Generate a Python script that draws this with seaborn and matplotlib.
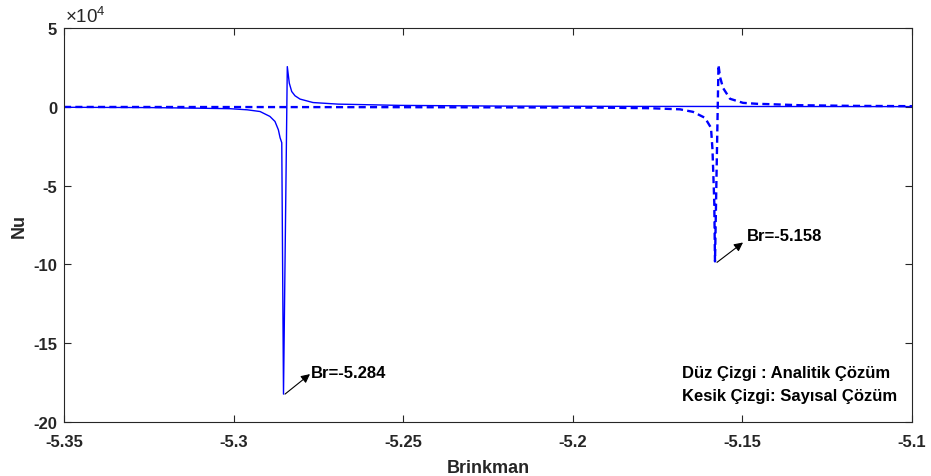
import matplotlib
matplotlib.use("Agg")
import matplotlib.pyplot as plt
import seaborn as sns
import pandas as pd

# ---- data ----
br_analytic = [-5.3500, -5.3246, -5.3099, -5.3011, -5.2960, -5.2922, -5.2893,
               -5.2878, -5.2868, -5.2863, -5.2858, -5.28529, -5.28417, -5.28358,
               -5.28287, -5.2819, -5.28042, -5.27659, -5.26922, -5.25094,
               -5.22146, -5.1800, -5.1400, -5.1000]
nu_analytic = [-300, -500, -900, -1200, -1900, -3000, -6100,
               -9300, -14600, -19600, -22800, -182300, 25500, 15000,
               9700, 7000, 4900, 2700, 1700, 900,
               450, 250, 180, 120]

br_numeric = [-5.3500, -5.3000, -5.2500, -5.2200, -5.1920, -5.1772, -5.1684,
              -5.16457, -5.16103, -5.15926, -5.15882, -5.15829, -5.15808,
              -5.15705, -5.15660, -5.15572, -5.15366, -5.14982, -5.14570,
              -5.14245, -5.13302, -5.11820, -5.1000]
nu_numeric = [-100, -150, -250, -350, -500, -900, -1600,
              -3200, -7000, -13300, -27200, -60800, -98100,
              26600, 19000, 12000, 5100, 2500, 1900,
              1700, 1000, 600, 400]

x_ticks = [-5.35, -5.3, -5.25, -5.2, -5.15, -5.1]
x_tick_labels = ["-5.35", "-5.3", "-5.25", "-5.2", "-5.15", "-5.1"]
y_ticks = [-200000, -150000, -100000, -50000, 0, 50000]
y_tick_labels = ["-20", "-15", "-10", "-5", "0", "5"]

x_label = "Brinkman"
y_label = "Nu"
offset_label = r"$\times\mathregular{10^{4}}$"
note_lines = ["Düz Çizgi : Analitik Çözüm", "Kesik Çizgi: Sayısal Çözüm"]
annot_texts = ["Br=-5.284", "Br=-5.158"]
annot_tails = [(-5.28485, -182300), (-5.15749, -98700)]
annot_heads = [(-5.27748, -169600), (-5.14982, -86100)]
annot_text_pos = [(-5.27718, -168400), (-5.14864, -81600)]

# ---- style ----
sns.set_theme(style="ticks")
plt.rcParams["font.family"] = ["Liberation Sans", "DejaVu Sans"]
plt.rcParams["mathtext.fontset"] = "custom"
plt.rcParams["mathtext.rm"] = "Liberation Sans"
plt.rcParams["axes.unicode_minus"] = False

fig = plt.figure(figsize=(9.31, 4.77), dpi=100)
ax = fig.add_axes([64 / 931, 1 - 423 / 477, 848 / 931, 394 / 477])

df_a = pd.DataFrame({"Br": br_analytic, "Nu": nu_analytic})
df_n = pd.DataFrame({"Br": br_numeric, "Nu": nu_numeric})

sns.lineplot(data=df_a, x="Br", y="Nu", ax=ax, color="blue", lw=1.0,
             sort=False, estimator=None)
sns.lineplot(data=df_n, x="Br", y="Nu", ax=ax, color="blue", lw=1.7,
             linestyle=(0, (3, 1.8)), sort=False, estimator=None)

ax.set_xlim(-5.35, -5.1)
ax.set_ylim(-200000, 50000)
ax.set_xticks(x_ticks)
ax.set_xticklabels(x_tick_labels)
ax.set_yticks(y_ticks)
ax.set_yticklabels(y_tick_labels)
ax.tick_params(direction="in", top=True, right=True, length=5, width=0.8,
               colors="#262626", labelsize=12)
ax.tick_params(axis="x", pad=9)
ax.tick_params(axis="y", pad=5)
for lab in ax.get_xticklabels() + ax.get_yticklabels():
    lab.set_fontweight("bold")
for sp in ax.spines.values():
    sp.set_visible(True)
    sp.set_color("#262626")
    sp.set_linewidth(0.8)

ax.set_xlabel(x_label, fontsize=13, fontweight="bold", color="#262626", labelpad=7)
ax.set_ylabel(y_label, fontsize=13, fontweight="bold", color="#262626", labelpad=4)

ax.text(0.001, 1.006, offset_label, transform=ax.transAxes, ha="left",
        va="bottom", fontsize=13.5, color="#262626")

for tail, head, txt, pos in zip(annot_tails, annot_heads, annot_texts, annot_text_pos):
    ax.annotate("", xy=head, xytext=tail,
                arrowprops=dict(arrowstyle="-|>", color="black", lw=0.8,
                                mutation_scale=13, shrinkA=0, shrinkB=0))
    ax.text(pos[0], pos[1], txt, ha="left", va="center", fontsize=12,
            fontweight="bold", color="black")

ax.text(0.7288, 0.1269, note_lines[0], transform=ax.transAxes, ha="left",
        va="center", fontsize=12, fontweight="bold", color="black")
ax.text(0.7288, 0.0668, note_lines[1], transform=ax.transAxes, ha="left",
        va="center", fontsize=12, fontweight="bold", color="black")

fig.savefig("out.png", dpi=100)
